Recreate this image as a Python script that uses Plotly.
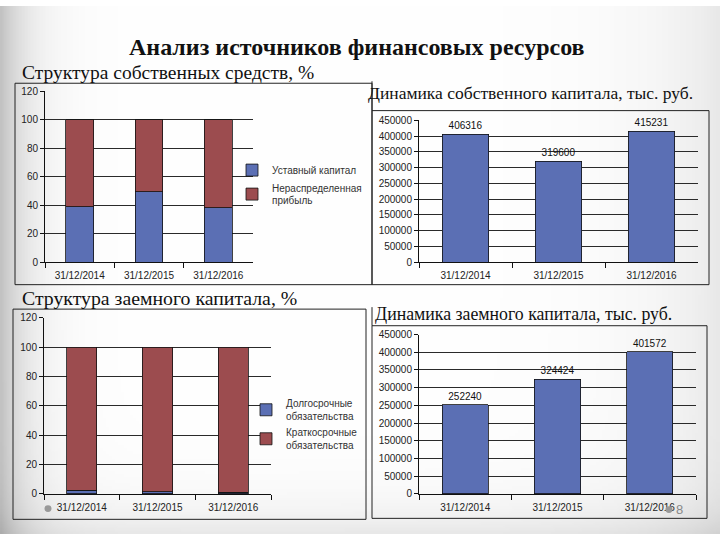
import base64, struct, zlib
import numpy as np
import plotly.graph_objects as go

# ---------------- data ----------------
dates = ["31/12/2014", "31/12/2015", "31/12/2016"]
own_share_charter = [38.9, 49.4, 38.1]          # Уставный капитал, %
own_share_retained = [61.1, 50.6, 61.9]         # Нераспределенная прибыль, %
own_capital = [406316, 319600, 415231]          # тыс. руб.
debt_share_long = [2.4, 1.6, 1.3]               # Долгосрочные обязательства, %
debt_share_short = [97.6, 98.4, 98.7]           # Краткосрочные обязательства, %
debt_capital = [252240, 324424, 401572]         # тыс. руб.

W, H = 720, 540
BLUE = "#5b6fb4"
RED = "#9c4c4f"
TICKFONT = dict(family="Liberation Sans, Arial, sans-serif", size=10, color="#222")


def px(x):
    return x / W


def py(y):
    return 1 - y / H


# ---------------- background vignette ----------------
def make_png(arr):
    h, w = arr.shape
    raw = b"".join(b"\x00" + arr[i].tobytes() for i in range(h))

    def chunk(t, d):
        c = struct.pack(">I", len(d)) + t + d
        return c + struct.pack(">I", zlib.crc32(t + d) & 0xFFFFFFFF)

    return (b"\x89PNG\r\n\x1a\n"
            + chunk(b"IHDR", struct.pack(">IIBBBBB", w, h, 8, 0, 0, 0, 0))
            + chunk(b"IDAT", zlib.compress(raw))
            + chunk(b"IEND", b""))


gw, gh = 240, 180
X, Y = np.meshgrid(np.linspace(0, W, gw), np.linspace(0, H, gh))
val = (255 - 60 * np.exp(-X / 28) - 22 * np.exp(-(W - X) / 70)
       - 22 * np.exp(-(H - Y) / 30))
bg = np.clip(val, 0, 255).astype(np.uint8)
bg_uri = "data:image/png;base64," + base64.b64encode(make_png(bg)).decode()

fig = go.Figure()

# ---------------- traces ----------------
fig.add_trace(go.Bar(x=dates, y=own_share_charter, name="Уставный капитал",
                     marker=dict(color=BLUE, line=dict(color="#111", width=0.8)),
                     width=0.4, xaxis="x", yaxis="y", legend="legend"))
fig.add_trace(go.Bar(x=dates, y=own_share_retained, name="Нераспределенная<br>прибыль",
                     marker=dict(color=RED, line=dict(color="#111", width=0.8)),
                     width=0.4, xaxis="x", yaxis="y", legend="legend"))

fig.add_trace(go.Bar(x=dates, y=own_capital, showlegend=False,
                     text=[str(v) for v in own_capital], textposition="outside",
                     textfont=dict(family="Liberation Sans, Arial", size=10, color="#111"),
                     cliponaxis=False,
                     marker=dict(color=BLUE, line=dict(color="#111", width=0.8)),
                     width=0.5, xaxis="x2", yaxis="y2"))

fig.add_trace(go.Bar(x=dates, y=debt_share_long, name="Долгосрочные<br>обязательства",
                     marker=dict(color=BLUE, line=dict(color="#111", width=0.8)),
                     width=0.4, xaxis="x3", yaxis="y3", legend="legend2"))
fig.add_trace(go.Bar(x=dates, y=debt_share_short, name="Краткосрочные<br>обязательства",
                     marker=dict(color=RED, line=dict(color="#111", width=0.8)),
                     width=0.4, xaxis="x3", yaxis="y3", legend="legend2"))

fig.add_trace(go.Bar(x=dates, y=debt_capital, showlegend=False,
                     text=[str(v) for v in debt_capital], textposition="outside",
                     textfont=dict(family="Liberation Sans, Arial", size=10, color="#111"),
                     cliponaxis=False,
                     marker=dict(color=BLUE, line=dict(color="#111", width=0.8)),
                     width=0.5, xaxis="x4", yaxis="y4"))


# ---------------- axes ----------------
def xax(x0, x1, anchor):
    return dict(domain=[px(x0), px(x1)], anchor=anchor, type="category",
                range=[-0.5, 2.5], tickson="boundaries", ticks="outside",
                ticklen=5, tickcolor="#111", showline=True, linecolor="#111",
                linewidth=1, showgrid=False, tickfont=TICKFONT, fixedrange=True,
                ticklabelstandoff=4)


def yax(y0, y1, anchor, top, dtick, fmt):
    return dict(domain=[py(y0), py(y1)], anchor=anchor, range=[0, top], dtick=dtick,
                tickformat=fmt, ticks="outside", ticklen=4, tickcolor="#111",
                showline=True, linecolor="#111", linewidth=1, showgrid=True,
                gridcolor="#2a2a2a", gridwidth=1, zeroline=False,
                tickfont=TICKFONT, fixedrange=True)


fig.update_layout(
    xaxis=xax(45, 253, "y"),
    yaxis=yax(262, 87, "x", 120, 20, "d"),
    xaxis2=xax(419, 698, "y2"),
    yaxis2=yax(262, 117, "x2", 450000, 50000, "d"),
    xaxis3=xax(44, 271, "y3"),
    yaxis3=yax(499, 319, "x3", 120, 20, "d"),
    xaxis4=xax(419, 696, "y4"),
    yaxis4=yax(499, 336, "x4", 450000, 50000, "d"),
)

# ---------------- legends ----------------
LEGFONT = dict(family="Liberation Sans, Arial, sans-serif", size=10, color="#333")
fig.update_layout(
    legend=dict(x=px(232), y=py(153), xanchor="left", yanchor="top",
                bgcolor="rgba(0,0,0,0)", font=LEGFONT, traceorder="normal",
                itemwidth=30, tracegroupgap=0),
    legend2=dict(x=px(246), y=py(393), xanchor="left", yanchor="top",
                 bgcolor="rgba(0,0,0,0)", font=LEGFONT, traceorder="normal",
                 itemwidth=30, tracegroupgap=0),
)

# ---------------- frames, dots ----------------
line = dict(color="#222", width=1)
shapes = [
    dict(type="rect", x0=px(15), x1=px(372), y0=py(79), y1=py(285), line=line),
    dict(type="rect", x0=px(372), x1=px(709), y0=py(107), y1=py(285), line=line),
    dict(type="line", x0=px(372), x1=px(372), y0=py(77), y1=py(107), line=line),
    dict(type="rect", x0=px(13), x1=px(366), y0=py(310), y1=py(525), line=line),
    dict(type="rect", x0=px(372), x1=px(707), y0=py(327), y1=py(524), line=line),
    dict(type="line", x0=px(372), x1=px(372), y0=py(308), y1=py(327), line=line),
    dict(type="circle", x0=px(44.5), x1=px(51.5), y0=py(510.5), y1=py(517.5),
         fillcolor="#999", line=dict(width=0)),
    dict(type="circle", x0=px(665.5), x1=px(672.5), y0=py(511.5), y1=py(518.5),
         fillcolor="#999", line=dict(width=0)),
]
for s in shapes:
    s.update(xref="paper", yref="paper")
fig.update_layout(shapes=shapes)

# ---------------- titles ----------------
SERIF = "Liberation Serif, Times New Roman, serif"


def ann(text, x, y, size, bold=False, xanchor="left", color="#111"):
    return dict(text=f"<b>{text}</b>" if bold else text, x=px(x), y=py(y),
                xref="paper", yref="paper", xanchor=xanchor, yanchor="middle",
                showarrow=False, font=dict(family=SERIF, size=size, color=color))


fig.update_layout(annotations=[
    ann("Анализ источников финансовых ресурсов", 357, 42, 24, bold=True, xanchor="center"),
    ann("Структура собственных средств, %", 20, 68, 19.5),
    ann("Динамика собственного капитала, тыс. руб.", 366, 89, 17.5),
    ann("Структура заемного капитала, %", 20, 299, 19.8),
    ann("Динамика заемного капитала, тыс. руб.", 373, 315, 17.8),
    dict(text="8", x=px(674), y=py(515), xref="paper", yref="paper", xanchor="left",
         yanchor="middle", showarrow=False,
         font=dict(family="Liberation Sans, Arial", size=13, color="#888")),
])

fig.update_layout(
    width=W, height=H, margin=dict(l=0, r=0, t=0, b=0),
    barmode="stack", paper_bgcolor="white", plot_bgcolor="white",
    images=[dict(source=bg_uri, xref="paper", yref="paper", x=0, y=1, sizex=1, sizey=1,
                 xanchor="left", yanchor="top", sizing="stretch", layer="below")],
    font=dict(family="Liberation Sans, Arial, sans-serif"),
)

fig.write_html("out.html")
